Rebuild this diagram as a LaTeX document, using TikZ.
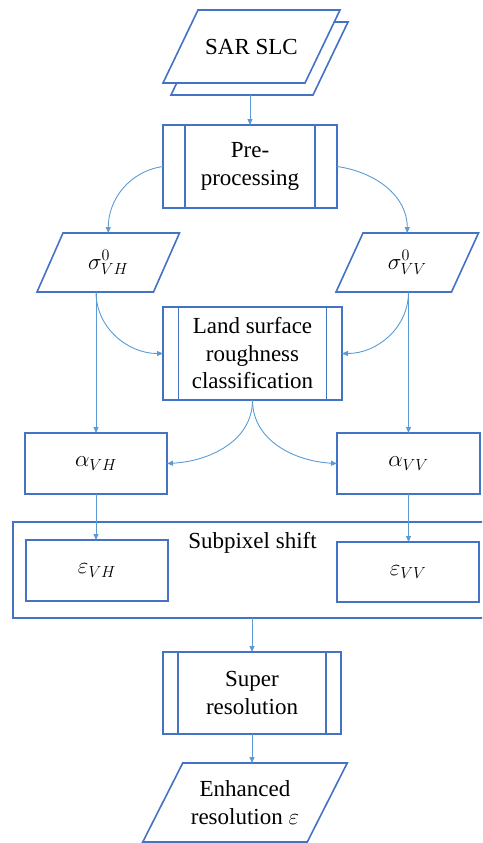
\RequirePackage{fix-cm}
\documentclass[tikz,border=0pt]{standalone}
\usepackage{fontspec}
\setmainfont{Liberation Serif}
\usetikzlibrary{arrows.meta}
\definecolor{boxblue}{HTML}{4472C4}
\definecolor{arrblue}{HTML}{5B9BD5}
\newcommand\plgram[3][]{%
  \draw[bx,#1] ([xshift=#3pt]#2.north west) -- ([xshift=#3pt]#2.north east)
    -- ([xshift=-#3pt]#2.south east) -- ([xshift=-#3pt]#2.south west) -- cycle;}
\begin{document}
\begin{tikzpicture}[x=1pt,y=1pt,
  bx/.style={draw=boxblue,line width=1.6pt},
  arr/.style={draw=arrblue,line width=0.9pt,-{Triangle[length=6pt,width=5pt]}},
  txt/.style={font=\fontsize{23}{27.5}\selectfont,align=center,inner sep=0pt,outer sep=0pt},
  plg/.style 2 args={txt,minimum width=#1pt,minimum height=#2pt},
  boxn/.style 2 args={txt,bx,minimum width=#1pt,minimum height=#2pt}
]
\useasboundingbox (0,0) rectangle (482,-843);
\clip (0,0) rectangle (482,-843);

% SAR SLC (stacked parallelograms)
\node[plg={142}{73}] (sarb) at (259.5,-58.5) {};
\node[plg={142}{73}] (sarf) at (251.5,-46.5) {};
\plgram[fill=white]{sarb}{17.5}
\plgram[fill=white]{sarf}{17.5}
\node[txt] (sar) at (sarf) {SAR SLC};

% Pre-processing
\node[boxn={174}{83}] (pre) at (250,-166.5) {Pre-\\processing};
\draw[bx] ([xshift=22pt]pre.north west) -- ([xshift=22pt]pre.south west);
\draw[bx] ([xshift=-22pt]pre.north east) -- ([xshift=-22pt]pre.south east);

% sigma nodes
\node[plg={116.5}{59}] (svh) at (108.25,-262.5) {$\sigma^0_{VH}$};
\plgram{svh}{13}
\node[plg={115.5}{59}] (svv) at (407.25,-262.5) {$\sigma^0_{VV}$};
\plgram{svv}{13.5}

% Land surface roughness classification
\node[boxn={179}{93}] (lsr) at (252.5,-353.5) {Land surface\\roughness\\classification};
\draw[bx] ([xshift=15.5pt]lsr.north west) -- ([xshift=15.5pt]lsr.south west);
\draw[bx] ([xshift=-15.5pt]lsr.north east) -- ([xshift=-15.5pt]lsr.south east);

% alpha nodes
\node[boxn={142}{61}] (avh) at (96,-463.5) {$\alpha_{VH}$};
\node[boxn={143}{61}] (avv) at (408.5,-463.5) {$\alpha_{VV}$};

% Subpixel shift group
\node[boxn={480}{96}] (sub) at (253,-570) {};
\node[txt,anchor=base] (subl) at (252.5,-548) {Subpixel shift};
\node[boxn={142}{61}] (evh) at (97,-570.5) {$\varepsilon_{VH}$};
\node[boxn={142}{60}] (evv) at (408,-572) {$\varepsilon_{VV}$};

% Super resolution
\node[boxn={178}{82}] (sr) at (252,-693) {Super\\resolution};
\draw[bx] ([xshift=15pt]sr.north west) -- ([xshift=15pt]sr.south west);
\draw[bx] ([xshift=-15pt]sr.north east) -- ([xshift=-15pt]sr.south east);

% Enhanced resolution
\node[plg={164.5}{79}] (enh) at (245,-802.5) {Enhanced\\resolution $\varepsilon$};
\plgram{enh}{20}

% connectors
\draw[arr] (pre.north |- sarb.south) -- (pre.north);
\draw[arr] (pre.west) to[out=188,in=90] (svh.north);
\draw[arr] (pre.east) to[out=-8,in=90] (svv.north);
\draw[arr] (avh.north |- svh.south) to[out=-90,in=180] (lsr.west);
\draw[arr] (avv.north |- svv.south) to[out=-90,in=0] (lsr.east);
\draw[arr] (avh.north |- svh.south) -- (avh.north);
\draw[arr] (avv.north |- svv.south) -- (avv.north);
\draw[arr] (lsr.south) to[out=-90,in=3] (avh.east);
\draw[arr] (lsr.south) to[out=-90,in=177] (avv.west);
\draw[arr] (avh.south) -- (avh.south |- evh.north);
\draw[arr] (avv.south) -- (avv.south |- evv.north);
\draw[arr] (sub.south -| sr.north) -- (sr.north);
\draw[arr] (sr.south) -- (sr.south |- enh.north);
\end{tikzpicture}
\end{document}
